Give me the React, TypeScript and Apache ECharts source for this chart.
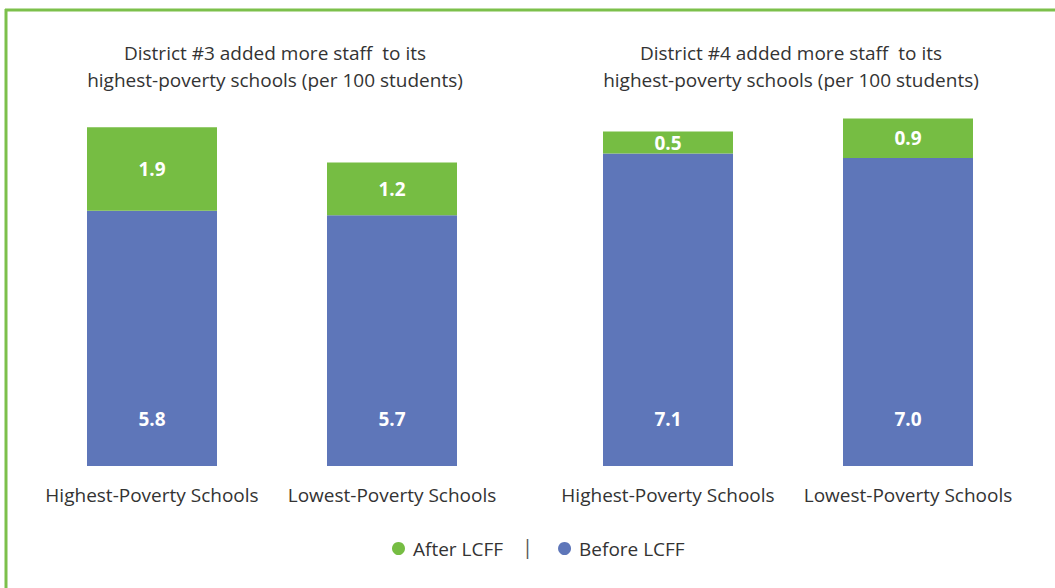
import React, { useEffect, useRef } from "react";
import * as echarts from "echarts";

const categories = ["Highest-Poverty Schools", "Lowest-Poverty Schools"];
const district3Before = [5.8, 5.7];
const district3After = [1.9, 1.2];
const district4Before = [7.1, 7.0];
const district4After = [0.5, 0.9];
const titles = [
  "District #3 added more staff  to its\nhighest-poverty schools (per 100 students)",
  "District #4 added more staff  to its\nhighest-poverty schools (per 100 students)",
];
const seriesNames = ["After LCFF", "Before LCFF"];

const GREEN = "#76BD43";
const BLUE = "#5E76B9";
const FONT = "Open Sans";
const TEXT = "#333333";

export default function App() {
  const ref = useRef<HTMLDivElement>(null);
  useEffect(() => {
    if (!ref.current) return;
    const chart = echarts.init(ref.current, null, { renderer: "svg" });
    const grids = [
      { left: 32, width: 480, top: 114, height: 352 },
      { left: 548, width: 480, top: 114, height: 352 },
    ];
    const labelBase = {
      show: true,
      color: "#fff",
      fontWeight: "bold",
      fontSize: 19,
      fontFamily: FONT,
      formatter: (p: any) => p.value.toFixed(1),
    };
    const mkBefore = (data: number[], idx: number) => ({
      name: seriesNames[1],
      type: "bar",
      stack: "s" + idx,
      xAxisIndex: idx,
      yAxisIndex: idx,
      barWidth: 130,
      data,
      itemStyle: { color: BLUE },
      label: { ...labelBase, position: "insideBottom", distance: 38 },
    });
    const mkAfter = (data: number[], idx: number) => ({
      name: seriesNames[0],
      type: "bar",
      stack: "s" + idx,
      xAxisIndex: idx,
      yAxisIndex: idx,
      barWidth: 130,
      data,
      itemStyle: { color: GREEN },
      label: { ...labelBase, position: "inside" },
    });
    const option: any = {
      animation: false,
      textStyle: { fontFamily: FONT },
      title: titles.map((t, i) => ({
        text: t,
        left: i === 0 ? 270 : 786,
        top: 34,
        textAlign: "center",
        textStyle: {
          fontFamily: FONT,
          fontSize: 19,
          fontWeight: "normal",
          color: TEXT,
          lineHeight: 27,
        },
      })),
      grid: grids,
      xAxis: grids.map((_, i) => ({
        type: "category",
        gridIndex: i,
        data: categories,
        axisLine: { show: false },
        axisTick: { show: false },
        axisLabel: {
          interval: 0,
          margin: 19,
          fontSize: 19,
          fontFamily: FONT,
          color: TEXT,
        },
      })),
      yAxis: grids.map((_, i) => ({
        type: "value",
        gridIndex: i,
        min: 0,
        max: 8,
        show: false,
      })),
      legend: {
        data: seriesNames,
        left: 387,
        top: 534,
        icon: "circle",
        itemWidth: 13,
        itemHeight: 13,
        itemGap: 55,
        textStyle: {
          fontSize: 19,
          fontFamily: FONT,
          color: TEXT,
          padding: [0, 0, 0, 3],
        },
      },
      graphic: [
        {
          type: "line",
          shape: { x1: 5, y1: 10, x2: 1055, y2: 10 },
          style: { stroke: "#7CC04B", lineWidth: 3 },
        },
        {
          type: "line",
          shape: { x1: 6, y1: 9, x2: 6, y2: 588 },
          style: { stroke: "#7CC04B", lineWidth: 3 },
        },
        {
          type: "text",
          left: 522,
          top: 536,
          style: { text: "|", fontSize: 20, fontFamily: FONT, fill: "#555" },
        },
      ],
      series: [
        mkBefore(district3Before, 0),
        mkAfter(district3After, 0),
        mkBefore(district4Before, 1),
        mkAfter(district4After, 1),
      ],
    };
    chart.setOption(option);
    return () => chart.dispose();
  }, []);
  return (
    <div
      ref={ref}
      style={{ position: "absolute", left: 0, top: 0, width: 1055, height: 588, background: "#fff" }}
    />
  );
}
